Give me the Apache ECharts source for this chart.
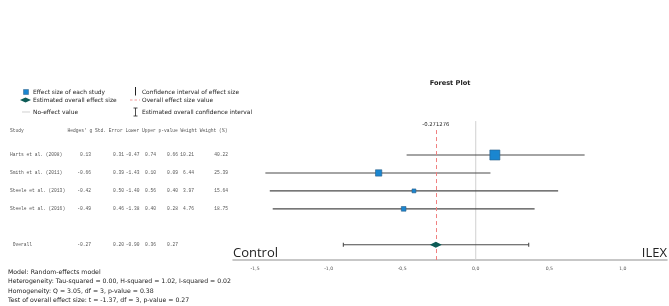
<!DOCTYPE html>
<html>
<head>
<meta charset="utf-8">
<script src="https://cdn.jsdelivr.net/npm/echarts@6/dist/echarts.min.js"></script>
<style>
  html, body { margin: 0; padding: 0; background: #fff; }
  #main { width: 669px; height: 306px; }
</style>
</head>
<body>
<div id="main"></div>
<script>
// study table
const studies = ['Harts et al. (2008)', 'Smith et al. (2011)', 'Steele et al. (2013)', 'Steele et al. (2016)'];
const hedgesG = [0.13, -0.66, -0.42, -0.49];
const stdErr = [0.31, 0.39, 0.50, 0.46];
const lower = [-0.47, -1.43, -1.40, -1.38];
const upper = [0.74, 0.10, 0.56, 0.40];
const pValue = [0.66, 0.09, 0.40, 0.28];
const weight = [10.21, 6.44, 3.97, 4.76];
const weightPct = [40.22, 25.39, 15.64, 18.75];

// overall (random effects)
const overallRow = ['Overall', -0.27, 0.20, -0.90, 0.36, 0.27];
const overallEstimate = -0.271276;
const noEffect = 0;

const tickValues = [-1.5, -1.0, -0.5, 0.0, 0.5, 1.0];
const headerText = "Hedges' g Std. Error Lower Upper p-value Weight Weight (%)";

const modelNotes = [
  'Model: Random-effects model',
  'Heterogeneity: Tau-squared = 0.00, H-squared = 1.02, I-squared = 0.02',
  'Homogeneity: Q = 3.05, df = 3, p-value = 0.38',
  'Test of overall effect size: t = -1.37, df = 3, p-value = 0.27'
];

const OVERALL_ROW = 5;
const HEADER_ROW = -1.34;
const yMin = -1.95, yMax = 5.85;

const mono = '4.6px "Liberation Mono"';
const sans = '"DejaVu Sans"';
const fmt = v => v.toFixed(2);

// column right edges for the table (px in the left grid)
const colRight = [91, 124, 139.5, 156, 178, 194, 228];

const tableRows = studies.map((s, i) => [i, s, fmt(hedgesG[i]), fmt(stdErr[i]), fmt(lower[i]), fmt(upper[i]), fmt(pValue[i]), fmt(weight[i]), fmt(weightPct[i])]);
tableRows.push([OVERALL_ROW, ' ' + overallRow[0], fmt(overallRow[1]), fmt(overallRow[2]), fmt(overallRow[3]), fmt(overallRow[4]), fmt(overallRow[5]), '', '']);

const chart = echarts.init(document.getElementById('main'));

function txt(x, y, text, size) {
  return {
    type: 'text', x: x, y: y, silent: true,
    style: { text: text, font: (size || 5.9) + 'px ' + sans, fill: '#222', verticalAlign: 'middle', align: 'left' }
  };
}

const legendEls = [
  { type: 'rect', shape: { x: 23.5, y: 89.5, width: 5, height: 5 }, style: { fill: '#1a86d0', stroke: '#2b5e86', lineWidth: 0.5 } },
  txt(33, 92, 'Effect size of each study'),
  { type: 'polygon', shape: { points: [[20, 100], [25.5, 97.5], [31, 100], [25.5, 102.5]] }, style: { fill: '#0d5c57' } },
  txt(33, 100, 'Estimated overall effect size'),
  { type: 'line', shape: { x1: 22, y1: 112, x2: 30, y2: 112 }, style: { stroke: '#bbb', lineWidth: 0.7 } },
  txt(33, 112, 'No-effect value'),
  { type: 'line', shape: { x1: 135.5, y1: 87, x2: 135.5, y2: 95.5 }, style: { stroke: '#222', lineWidth: 1 } },
  txt(142, 92, 'Confidence interval of effect size'),
  { type: 'line', shape: { x1: 130, y1: 100, x2: 140, y2: 100 }, style: { stroke: '#f08080', lineWidth: 0.8, lineDash: [2.5, 2] } },
  txt(142, 100, 'Overall effect size value'),
  { type: 'line', shape: { x1: 135.5, y1: 108, x2: 135.5, y2: 116 }, style: { stroke: '#222', lineWidth: 0.8 } },
  { type: 'line', shape: { x1: 133.5, y1: 108, x2: 137.5, y2: 108 }, style: { stroke: '#222', lineWidth: 0.8 } },
  { type: 'line', shape: { x1: 133.5, y1: 116, x2: 137.5, y2: 116 }, style: { stroke: '#222', lineWidth: 0.8 } },
  txt(142, 112, 'Estimated overall confidence interval')
];

const noteEls = modelNotes.map((t, i) => txt(8, 272 + i * 9.5, t, 6.2));

const option = {
  animation: false,
  backgroundColor: '#fff',
  grid: [
    { left: 0, width: 240, top: 120, bottom: 46 },
    { left: 233, right: 2, top: 120, bottom: 46 }
  ],
  xAxis: [
    { gridIndex: 0, type: 'value', min: 0, max: 240, show: false },
    {
      gridIndex: 1, type: 'value', min: -1.65, max: 1.30,
      splitLine: { show: false },
      axisTick: { show: false },
      axisLine: { onZero: false, lineStyle: { color: '#b5b5b5', width: 1.5 } },
      axisLabel: {
        customValues: tickValues,
        formatter: v => v.toFixed(1).replace('.', ','),
        fontSize: 4.6, color: '#555', margin: 6, fontFamily: sans
      }
    }
  ],
  yAxis: [
    { gridIndex: 0, type: 'value', inverse: true, min: yMin, max: yMax, show: false },
    { gridIndex: 1, type: 'value', inverse: true, min: yMin, max: yMax, show: false }
  ],
  graphic: [
    { type: 'text', x: 450, y: 83, silent: true, style: { text: 'Forest Plot', font: 'bold 6.6px ' + sans, fill: '#222', align: 'center', verticalAlign: 'middle' } },
    { type: 'text', x: 233, y: 253, silent: true, style: { text: 'Control', font: '13px "Open Sans"', fill: '#222', align: 'left', verticalAlign: 'middle' } },
    { type: 'text', x: 667, y: 253, silent: true, style: { text: 'ILEX', font: '13px "Open Sans"', fill: '#222', align: 'right', verticalAlign: 'middle' } }
  ].concat(legendEls, noteEls),
  series: [
    {
      // table on the left
      type: 'custom', xAxisIndex: 0, yAxisIndex: 0, silent: true,
      data: [[HEADER_ROW]].concat(tableRows.map(r => [r[0]])),
      encode: { y: 0 },
      renderItem: function (params, api) {
        const y = api.coord([0, api.value(0)])[1];
        if (params.dataIndex === 0) {
          return {
            type: 'group', children: [
              { type: 'text', x: 10, y: y, style: { text: 'Study', font: mono, fill: '#555', verticalAlign: 'middle' } },
              { type: 'text', x: 67.5, y: y, style: { text: headerText, font: mono, fill: '#555', verticalAlign: 'middle' } }
            ]
          };
        }
        const row = tableRows[params.dataIndex - 1];
        const children = [{ type: 'text', x: 10, y: y, style: { text: row[1], font: mono, fill: '#555', verticalAlign: 'middle' } }];
        colRight.forEach((xr, c) => {
          children.push({ type: 'text', x: xr, y: y, style: { text: row[c + 2], font: mono, fill: '#555', align: 'right', verticalAlign: 'middle' } });
        });
        return { type: 'group', children: children };
      }
    },
    {
      // no-effect line
      type: 'line', xAxisIndex: 1, yAxisIndex: 1, silent: true,
      symbol: 'none',
      data: [[noEffect, -1.89], [noEffect, yMax]],
      lineStyle: { color: '#d0d0d0', width: 1 },
      z: 1
    },
    {
      // confidence intervals of each study
      type: 'custom', xAxisIndex: 1, yAxisIndex: 1, silent: true,
      data: studies.map((s, i) => [lower[i], upper[i], i]),
      encode: { x: [0, 1], y: 2 },
      renderItem: function (params, api) {
        const a = api.coord([api.value(0), api.value(2)]);
        const b = api.coord([api.value(1), api.value(2)]);
        return { type: 'line', shape: { x1: a[0], y1: a[1], x2: b[0], y2: b[1] }, style: { stroke: '#4a4a4a', lineWidth: 1.1 } };
      },
      z: 3
    },
    {
      // overall confidence interval with caps
      type: 'custom', xAxisIndex: 1, yAxisIndex: 1, silent: true,
      data: [[overallRow[3], overallRow[4], OVERALL_ROW]],
      encode: { x: [0, 1], y: 2 },
      renderItem: function (params, api) {
        const a = api.coord([api.value(0), api.value(2)]);
        const b = api.coord([api.value(1), api.value(2)]);
        const st = { stroke: '#4a4a4a', lineWidth: 1.1 };
        return {
          type: 'group', children: [
            { type: 'line', shape: { x1: a[0], y1: a[1], x2: b[0], y2: b[1] }, style: st },
            { type: 'line', shape: { x1: a[0], y1: a[1] - 2, x2: a[0], y2: a[1] + 2 }, style: st },
            { type: 'line', shape: { x1: b[0], y1: b[1] - 2, x2: b[0], y2: b[1] + 2 }, style: st }
          ]
        };
      },
      z: 3
    },
    {
      // effect size squares, sized by weight
      type: 'scatter', xAxisIndex: 1, yAxisIndex: 1, silent: true,
      symbol: 'rect',
      data: studies.map((s, i) => [hedgesG[i], i, weightPct[i]]),
      symbolSize: d => d[2] / 4,
      itemStyle: { color: '#1a86d0', borderColor: '#2b5e86', borderWidth: 0.6, opacity: 1 },
      z: 5
    },
    {
      // overall estimate diamond + dashed line
      type: 'scatter', xAxisIndex: 1, yAxisIndex: 1, silent: true,
      symbol: 'path://M0,5 L10,0 L20,5 L10,10 Z',
      symbolSize: [12, 6],
      data: [[overallEstimate, OVERALL_ROW]],
      itemStyle: { color: '#0d5c57', opacity: 1 },
      z: 6,
      markLine: {
        silent: true, symbol: 'none', animation: false,
        lineStyle: { color: '#f08080', width: 1, type: [4, 3] },
        label: {
          show: true, position: 'start', distance: 3,
          formatter: String(overallEstimate),
          fontSize: 5.3, color: '#222', fontFamily: sans
        },
        data: [[{ coord: [overallEstimate, -1.39] }, { coord: [overallEstimate, yMax] }]]
      }
    }
  ]
};

chart.setOption(option);
</script>
</body>
</html>
